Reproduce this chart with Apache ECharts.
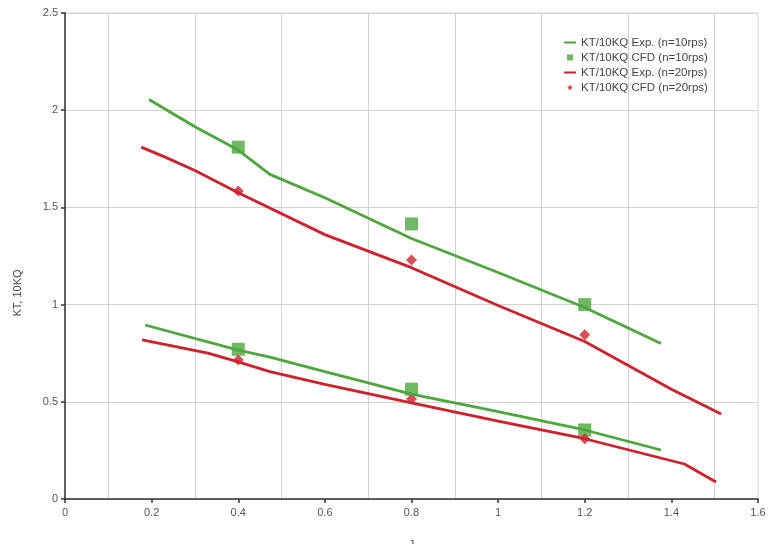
<!DOCTYPE html>
<html>
<head>
<meta charset="utf-8">
<script src="https://cdn.jsdelivr.net/npm/echarts@6/dist/echarts.min.js"></script>
<style>
  html, body { margin: 0; padding: 0; background: #fff; }
  #chart { width: 769px; height: 544px; }
</style>
</head>
<body>
<div id="chart"></div>
<script>
// KT curves (upper) and 10KQ curves (lower)
var ktExp10J = [0.194, 0.3, 0.4, 0.473, 0.6, 0.8, 1.0, 1.2, 1.376];
var ktExp10 = [2.055, 1.915, 1.795, 1.67, 1.55, 1.34, 1.165, 0.985, 0.8];
var kqExp10J = [0.185, 0.4, 0.473, 0.6, 0.8, 1.0, 1.2, 1.376];
var kqExp10 = [0.895, 0.766, 0.73, 0.655, 0.54, 0.45, 0.355, 0.252];

var ktExp20J = [0.176, 0.23, 0.3, 0.4, 0.6, 0.8, 1.0, 1.2, 1.4, 1.515];
var ktExp20 = [1.81, 1.76, 1.69, 1.575, 1.36, 1.19, 0.995, 0.81, 0.565, 0.437];
var kqExp20J = [0.178, 0.33, 0.4, 0.473, 0.6, 0.8, 1.0, 1.2, 1.43, 1.503];
var kqExp20 = [0.818, 0.75, 0.705, 0.655, 0.59, 0.495, 0.4, 0.31, 0.18, 0.087];

// CFD points
var cfdJ = [0.4, 0.8, 1.2];
var ktCfd10 = [1.81, 1.415, 1.0];
var kqCfd10 = [0.77, 0.565, 0.355];
var ktCfd20 = [1.585, 1.23, 0.845];
var kqCfd20 = [0.715, 0.515, 0.31];

var xTicks = [0, 0.2, 0.4, 0.6, 0.8, 1, 1.2, 1.4, 1.6];
var yTicks = [0, 0.5, 1, 1.5, 2, 2.5];

var green = '#4ca73c';
var red = '#d0202c';

// legend icons, all in a 12x7 box so they keep their own shape
var iconLine = 'path://M0,0H0.01V0.01H0Z M0,2.6H12V4.4H0Z M11.99,6.99H12V7H11.99Z';
var iconSquare = 'path://M0,0H0.01V0.01H0Z M3,0.5H9V6.5H3Z M11.99,6.99H12V7H11.99Z';
var iconDiamond = 'path://M0,0H0.01V0.01H0Z M6,1L8.6,3.6L6,6.2L3.4,3.6Z M11.99,6.99H12V7H11.99Z';

function pairs(xs, ys){
    return xs.map(function(x, i){ return [x, ys[i]]; });
}

var chart = echarts.init(document.getElementById('chart'));

function lineSeries(name, color, xs, ys){
    return {
        name: name,
        type: 'line',
        symbol: 'none',
        lineStyle: { color: color, width: 2.8 },
        itemStyle: { color: color },
        data: pairs(xs, ys)
    };
}
function pointSeries(name, color, symbol, size, xs, ys){
    return {
        name: name,
        type: 'scatter',
        symbol: symbol,
        symbolSize: size,
        itemStyle: { color: color },
        data: pairs(xs, ys)
    };
}

var option = {
    backgroundColor: '#fff',
    animation: false,
    grid: {
        left: 65, right: 11, top: 13, bottom: 45,
        outerBoundsMode: 'none',
        show: true, borderColor: '#d6d0d0', borderWidth: 1
    },
    legend: {
        orient: 'vertical',
        left: 559, top: 31,
        itemWidth: 12, itemHeight: 7, itemGap: 2,
        textStyle: { fontFamily: 'Liberation Sans', fontSize: 11.5, color: '#444', lineHeight: 13 },
        data: [
            { name: 'KT/10KQ Exp. (n=10rps)', icon: iconLine },
            { name: 'KT/10KQ CFD (n=10rps)', icon: iconSquare },
            { name: 'KT/10KQ Exp. (n=20rps)', icon: iconLine },
            { name: 'KT/10KQ CFD (n=20rps)', icon: iconDiamond }
        ]
    },
    xAxis: {
        type: 'value',
        min: 0, max: 1.6, interval: 0.2,
        name: 'J',
        nameLocation: 'middle',
        nameGap: 40,
        nameTextStyle: { fontFamily: 'Liberation Sans', fontSize: 11, color: '#444' },
        axisLine: { lineStyle: { color: '#333', width: 1.5 } },
        axisTick: { show: true, length: 4, lineStyle: { color: '#333', width: 1.5 } },
        axisLabel: {
            fontFamily: 'Liberation Sans', fontSize: 11, color: '#555', margin: 8,
            formatter: function(v){ return xTicks.indexOf(+v.toFixed(1)) >= 0 ? String(+v.toFixed(1)) : ''; }
        },
        splitLine: { show: false },
        minorTick: { show: false, splitNumber: 2 },
        minorSplitLine: { show: true, lineStyle: { color: '#d6d0d0', width: 1 } }
    },
    yAxis: {
        type: 'value',
        min: 0, max: 2.5, interval: 0.5,
        name: 'KT, 10KQ',
        nameLocation: 'middle',
        nameGap: 42,
        nameTextStyle: { fontFamily: 'Liberation Sans', fontSize: 11, color: '#444', padding: [0, 74, 0, 0] },
        axisLine: { show: true, lineStyle: { color: '#333', width: 1.5 } },
        axisTick: { show: true, length: 4, lineStyle: { color: '#333', width: 1.5 } },
        axisLabel: {
            fontFamily: 'Liberation Sans', fontSize: 11, color: '#555', margin: 7,
            formatter: function(v){ return yTicks.indexOf(+v.toFixed(1)) >= 0 ? String(+v.toFixed(1)) : ''; }
        },
        splitLine: { show: true, lineStyle: { color: '#d6d0d0', width: 1 } }
    },
    series: [
        lineSeries('KT/10KQ Exp. (n=10rps)', green, ktExp10J, ktExp10),
        lineSeries('KT/10KQ Exp. (n=10rps)', green, kqExp10J, kqExp10),
        pointSeries('KT/10KQ CFD (n=10rps)', green, 'rect', 13, cfdJ, ktCfd10),
        pointSeries('KT/10KQ CFD (n=10rps)', green, 'rect', 13, cfdJ, kqCfd10),
        lineSeries('KT/10KQ Exp. (n=20rps)', red, ktExp20J, ktExp20),
        lineSeries('KT/10KQ Exp. (n=20rps)', red, kqExp20J, kqExp20),
        pointSeries('KT/10KQ CFD (n=20rps)', red, 'diamond', 11, cfdJ, ktCfd20),
        pointSeries('KT/10KQ CFD (n=20rps)', red, 'diamond', 11, cfdJ, kqCfd20)
    ]
};
chart.setOption(option);
</script>
</body>
</html>
